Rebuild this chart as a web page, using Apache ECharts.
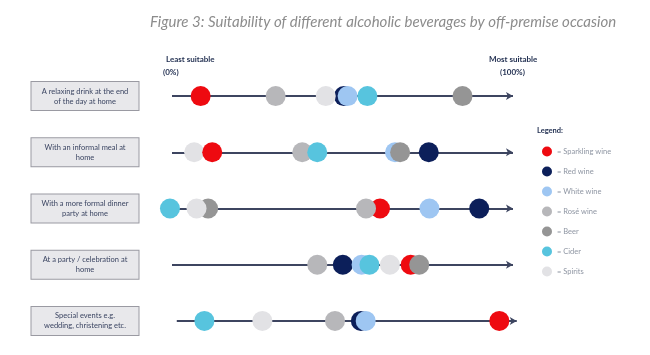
<!DOCTYPE html>
<html><head><meta charset="utf-8">
<script src="https://cdn.jsdelivr.net/npm/echarts@6/dist/echarts.min.js"></script>
<style>html,body{margin:0;padding:0;background:#fff}#c{width:650px;height:355px}</style>
</head><body><div id="c"></div>
<script>
// ---- data ----
var occasions = [
  'A relaxing drink at the end\nof the day at home',
  'With an informal meal at\nhome',
  'With a more formal dinner\nparty at home',
  'At a party / celebration at\nhome',
  'Special events e.g.\nwedding, christening etc.'
];
var beverages = ['Sparkling wine', 'Red wine', 'White wine', 'Rosé wine', 'Beer', 'Cider', 'Spirits'];
// suitability (% from least to most suitable) per occasion, in occasion order
var sparkling = [8.4, 11.8, 61.0, 70.0, 96.0];
var redWine   = [50.4, 75.3, 90.1, 50.1, 55.4];
var whiteWine = [51.5, 65.4, 75.5, 55.6, 56.8];
var roseWine  = [30.4, 38.2, 56.9, 42.6, 47.8];
var beer      = [85.2, 66.9, 10.6, 72.5, null];
var cider     = [57.3, 42.6, -0.6, 57.9, 9.5];
var spirits   = [45.1, 6.5, 7.2, 63.9, 26.5];
var values = [sparkling, redWine, whiteWine, roseWine, beer, cider, spirits];
// stacking order (bottom to top) of beverages within each occasion row
var drawOrder = [
  [0, 3, 1, 6, 2, 5, 4],
  [6, 0, 3, 5, 2, 4, 1],
  [5, 4, 6, 0, 3, 2, 1],
  [3, 1, 2, 5, 6, 0, 4],
  [5, 6, 3, 1, 2, 0, 4]
];
var lineStart = [0, 0, 0, 0, 1.4];
var lineEnd   = [100, 100, 100, 100, 101.1];

// ---- style ----
var colors = ['#ee0a10', '#0c1f5a', '#9ec6f2', '#b7b7ba', '#959595', '#57c4de', '#e2e2e5'];
var FONT = 'Lato';
var lineColor = '#3d4560';

var series = [];
occasions.forEach(function (occ, r) {
  var data = [];
  drawOrder[r].forEach(function (b) {
    var v = values[b][r];
    if (v === null || v === undefined) return;
    data.push({ value: [v, r], itemStyle: { color: colors[b], opacity: 1 }, name: beverages[b] });
  });
  series.push({
    type: 'scatter', name: 'row' + r, symbolSize: 20, clip: false, silent: true,
    data: data, z: 3, itemStyle: { opacity: 1 },
    markLine: {
      silent: true, symbol: ['none', 'arrow'], symbolSize: [6, 7], z: 2,
      label: { show: false },
      lineStyle: { color: lineColor, width: 2, type: 'solid' },
      data: [[{ coord: [lineStart[r], r] }, { coord: [lineEnd[r], r] }]]
    }
  });
});
beverages.forEach(function (b, i) {
  series.push({ type: 'scatter', name: b, data: [], itemStyle: { color: colors[i], opacity: 1 } });
});

var chart = echarts.init(document.getElementById('c'), null, { renderer: 'canvas' });
chart.setOption({
  animation: false,
  backgroundColor: '#ffffff',
  title: {
    text: 'Figure 3: Suitability of different alcoholic beverages by off-premise occasion',
    left: 145, top: 10,
    textStyle: { fontFamily: FONT, fontStyle: 'italic', fontWeight: 'normal', fontSize: 15, color: '#8c8c8c' }
  },
  grid: { left: 172, right: 130.2, top: 68, height: 281 },
  xAxis: { type: 'value', min: 0, max: 102, show: false },
  yAxis: {
    type: 'category', data: occasions, inverse: true,
    axisLine: { show: false }, axisTick: { show: false }, splitLine: { show: false },
    axisLabel: {
      margin: 87, align: 'center', width: 99, overflow: 'break',
      padding: [4, 4], lineHeight: 10, fontSize: 7.5, fontFamily: FONT, color: '#3b4562',
      backgroundColor: '#e8e8eb', borderColor: '#9a9aa2', borderWidth: 1
    }
  },
  legend: {
    data: beverages, orient: 'vertical', left: 537, top: 141.5,
    icon: 'circle', itemWidth: 10, itemHeight: 10, itemGap: 10,
    formatter: '= {name}', selectedMode: false,
    textStyle: { fontFamily: FONT, fontSize: 7.5, color: '#8f96a3', lineHeight: 10 }
  },
  graphic: [
    { type: 'text', left: 166, top: 55, style: { text: 'Least suitable', font: 'bold 8px Lato', fill: '#1f2d4f' } },
    { type: 'text', left: 163, top: 68, style: { text: '(0%)', font: 'bold 8px Lato', fill: '#1f2d4f' } },
    { type: 'text', left: 489, top: 55, style: { text: 'Most suitable', font: 'bold 8px Lato', fill: '#1f2d4f' } },
    { type: 'text', left: 500, top: 68, style: { text: '(100%)', font: 'bold 8px Lato', fill: '#1f2d4f' } },
    { type: 'text', left: 537, top: 127, style: { text: 'Legend:', font: 'bold 7.5px Lato', fill: '#1f2d4f' } }
  ],
  series: series
});
</script></body></html>
